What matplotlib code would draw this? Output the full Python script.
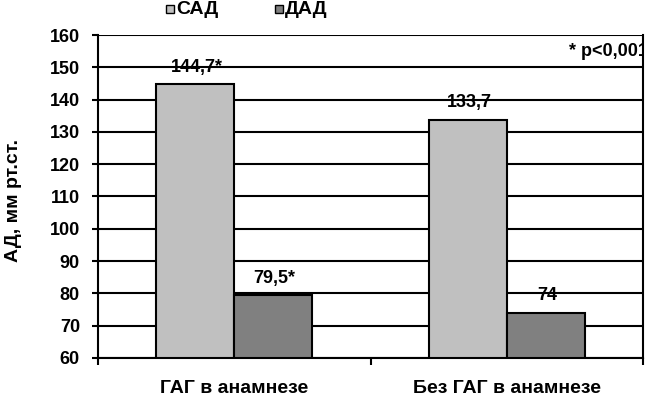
import matplotlib
matplotlib.use("Agg")
import matplotlib.pyplot as plt
import numpy as np
from matplotlib.patches import Rectangle

plt.rcParams['font.family'] = ['Liberation Sans', 'DejaVu Sans']
plt.rcParams['font.weight'] = 'bold'

categories = ["ГАГ в анамнезе", "Без ГАГ в анамнезе"]
series_names = ["САД", "ДАД"]
sad = [144.7, 133.7]
dad = [79.5, 74.0]
sad_labels = ["144,7*", "133,7"]
dad_labels = ["79,5*", "74"]
yticks = list(range(60, 161, 10))
colors = ['#C0C0C0', '#808080']

W, H = 649, 396
fig = plt.figure(figsize=(W/100, H/100), dpi=100)
L, R, T, B = 98, 643, 35, 358
ax = fig.add_axes([L/W, 1-B/H, (R-L)/W, (B-T)/H])

x = np.arange(len(categories)) + 0.5
w = 0.287
ax.bar(x - w/2, sad, width=w, color=colors[0], edgecolor='black', linewidth=1.5, zorder=3)
ax.bar(x + w/2, dad, width=w, color=colors[1], edgecolor='black', linewidth=1.5, zorder=3)

ax.set_ylim(60, 160)
ax.set_xlim(0, 2)
ax.set_yticks(yticks)
ax.set_yticklabels([str(t) for t in yticks], fontsize=13, fontweight='bold')
ax.set_xticks([0, 1, 2])
ax.set_xticklabels([])
ax.tick_params(axis='x', which='major', length=5, width=1.5, direction='out')
ax.tick_params(axis='y', length=4, width=1.5, direction='out', pad=9)
ax.set_xticks(x, minor=True)
ax.set_xticklabels(categories, minor=True, fontsize=14, fontweight='bold')
ax.tick_params(axis='x', which='minor', length=0, pad=16)

for t in yticks:
    ax.axhline(t, color='black', linewidth=1.5, zorder=1)
ax.spines['top'].set_visible(False)
for s in ['left', 'bottom', 'right']:
    ax.spines[s].set_linewidth(1.5)
    ax.spines[s].set_zorder(4)

for xi, v, lab in zip(x - w/2, sad, sad_labels):
    ax.annotate(lab, (xi, v), xytext=(1, 9), textcoords='offset points', ha='center', va='baseline',
                fontsize=13, fontweight='bold', zorder=5)
for xi, v, lab in zip(x + w/2, dad, dad_labels):
    ax.annotate(lab, (xi, v), xytext=(1, 9), textcoords='offset points', ha='center', va='baseline',
                fontsize=13, fontweight='bold', zorder=5)

ax.text((648-L)/(R-L), (B-56)/(B-T), "* p<0,001", transform=ax.transAxes, ha='right', va='baseline',
        fontsize=13, fontweight='bold', clip_on=True, zorder=5)

ax.text((14-L)/(R-L), (B-201)/(B-T), "АД, мм рт.ст.", transform=ax.transAxes, rotation=90,
        ha='center', va='center', fontsize=14, fontweight='bold')

# legend
leg_x = [166, 275]
for lx, name, c in zip(leg_x, series_names, colors):
    fig.patches.append(Rectangle((lx/W, 1-13/H), 8/W, 8/H, transform=fig.transFigure,
                                 facecolor=c, edgecolor='black', linewidth=1.0))
    fig.text((lx+10)/W, 1-10/H, name, ha='left', va='center', fontsize=14, fontweight='bold')

fig.savefig("out.png", dpi=100)
